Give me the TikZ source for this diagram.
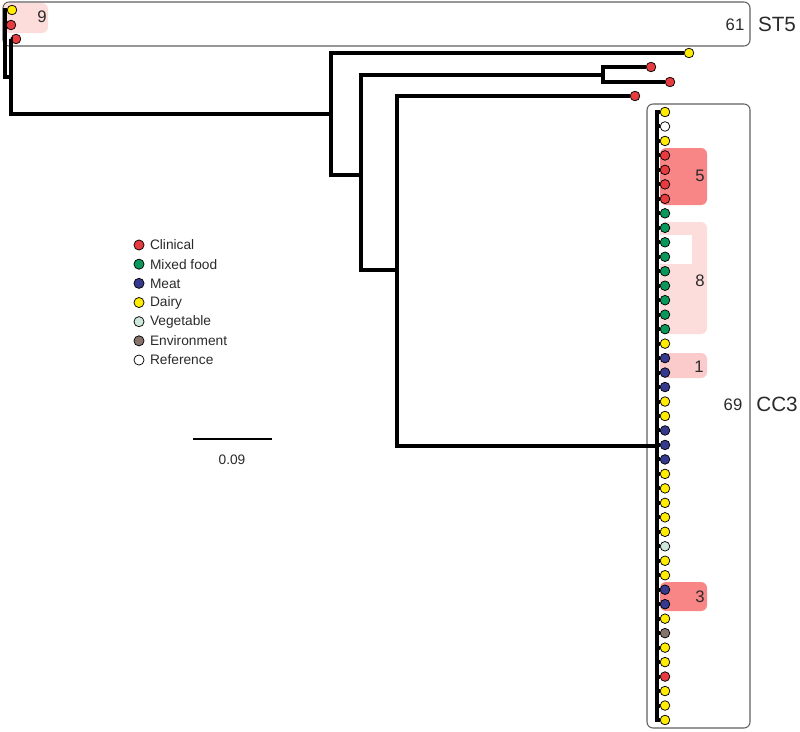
\documentclass[tikz,border=0pt]{standalone}
\usepackage{fontspec}
\setmainfont{Liberation Sans}
\usetikzlibrary{positioning}
\definecolor{clin}{HTML}{E63B3F}
\definecolor{mixed}{HTML}{07985A}
\definecolor{meat}{HTML}{353A8E}
\definecolor{dairy}{HTML}{FFEC00}
\definecolor{veg}{HTML}{CDE8DA}
\definecolor{env}{HTML}{86746C}
\definecolor{refc}{HTML}{FFFFFF}
\definecolor{hlstrong}{HTML}{F98686}
\definecolor{hlpale}{HTML}{FDDCDC}
\definecolor{hlmid}{HTML}{FBCBCB}
\definecolor{frame}{HTML}{606060}
\definecolor{ink}{HTML}{2A2A2A}
\tikzset{
  leaf/.style={circle, draw=black, line width=0.55pt, inner sep=0pt, minimum size=7.2pt},
  branch/.style={line width=3pt, draw=black},
  cladebox/.style={draw=frame, line width=0.8pt, rounded corners=4.5pt},
  hl/.style={rounded corners=4.5pt},
  count/.style={font=\fontsize{12.5}{14}\selectfont, text=ink, inner sep=0pt},
  cladename/.style={font=\fontsize{15.5}{18}\selectfont, text=ink, inner sep=0pt},
  keytext/.style={font=\fontsize{10.3}{12}\selectfont, text=ink, inner sep=0pt}
}

\begin{document}
\begin{tikzpicture}[x=0.75pt, y=-0.75pt]
\useasboundingbox (0,0) rectangle (800,732);
% highlighted groups
\fill[hlpale, hl] (4,3) rectangle (48,33);
\fill[hlstrong, hl] (660,148) rectangle (707,205);
\fill[hlpale, hl] (660,222) rectangle (707,334);
\fill[white] (660,235) rectangle (692,264);
\fill[hlmid, hl] (660,353) rectangle (707,378);
\fill[hlstrong, hl] (660,582) rectangle (707,611);
% clade frames
\draw[cladebox] (3,2) rectangle (750,46);
\draw[cladebox] (647,104) rectangle (750,728);
% internal nodes
\coordinate (n0) at (5,43);
\coordinate (n1) at (11,77);
\coordinate (n2) at (331,114);
\coordinate (n3) at (361,175);
\coordinate (n4) at (603,75);
\coordinate (n5) at (397,270);
\coordinate (cc3) at (657,446);
% tips outside CC3
\node[leaf, fill=dairy] (s1) at (12,10) {};
\node[leaf, fill=clin] (s2) at (11,25) {};
\node[leaf, fill=clin] (s3) at (16,39) {};
\node[leaf, fill=dairy] (y1) at (689,53) {};
\node[leaf, fill=clin] (r1) at (651,67) {};
\node[leaf, fill=clin] (r2) at (670,82) {};
\node[leaf, fill=clin] (r3) at (635,96) {};
% CC3 tips
\foreach \c [count=\i from 0] in {dairy,refc,dairy,clin,clin,clin,clin,
  mixed,mixed,mixed,mixed,mixed,mixed,mixed,mixed,mixed,dairy,meat,meat,meat,
  dairy,dairy,meat,meat,meat,dairy,dairy,dairy,dairy,dairy,veg,dairy,dairy,
  meat,meat,dairy,env,dairy,dairy,clin,dairy,dairy,dairy}
  \node[leaf, fill=\c] (c\i) at (665,{112+14.476*\i}) {};
% branches
\draw[branch] (n0) |- (s1);
\draw[branch] (n0) |- (s2);
\draw[branch] (n0) |- (n1);
\draw[branch] (n1) |- (s3);
\draw[branch] (n1) |- (n2);
\draw[branch] (n2) |- (y1);
\draw[branch] (n2) |- (n3);
\draw[branch] (n3) |- (n4);
\draw[branch] (n3) |- (n5);
\draw[branch] (n4) |- (r1);
\draw[branch] (n4) |- (r2);
\draw[branch] (n5) |- (r3);
\draw[branch] (n5) |- (cc3);
\foreach \i in {0,...,42}
  \draw[branch] (cc3) |- (c\i);
% counts and clade names
\node[count] (h9) at (42,17) {9};
\node[count] (h5) at (700,176) {5};
\node[count] (h8) at (700,281) {8};
\node[count] (h1) at (699,367) {1};
\node[count] (h3) at (700,597) {3};
\node[count] (st5n) at (735,25) {61};
\node[count] (cc3n) at (733,405) {69};
\node[cladename] (st5) at (777,24) {ST5};
\node[cladename] (cc3l) at (777,404) {CC3};
% legend
\foreach \c/\t [count=\i] in {clin/Clinical, mixed/Mixed food, meat/Meat, dairy/Dairy,
  veg/Vegetable, env/Environment, refc/Reference} {
  \node[leaf, fill=\c, minimum size=7.6pt] (k\i) at (139,{245+19.17*(\i-1)}) {};
  \node[keytext, right=4pt of k\i] (t\i) {\t};
}
% scale bar
\coordinate (sbl) at (193,439);
\coordinate (sbr) at (272,439);
\draw[line width=1pt] (sbl) -- (sbr);
\node[keytext] (sbt) at (232,460) {0.09};
\end{tikzpicture}
\end{document}
